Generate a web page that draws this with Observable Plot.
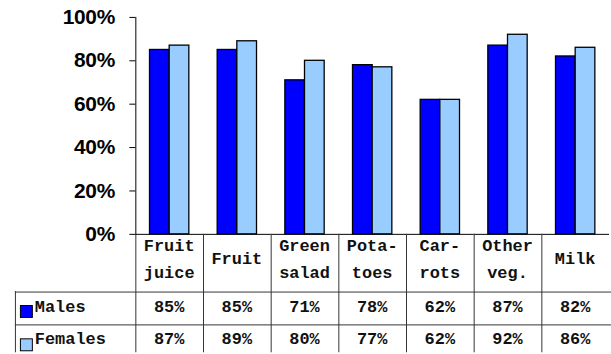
<!DOCTYPE html>
<html><head><meta charset="utf-8">
<script src="https://cdn.jsdelivr.net/npm/d3@7"></script>
<script src="https://cdn.jsdelivr.net/npm/@observablehq/plot@0.6"></script>
<style>
html,body{margin:0;padding:0;background:#fff;overflow:hidden;width:611px;height:354px}
#chart svg{display:block}
</style>
</head><body><div id="chart"></div>
<script>
const categories = ["Fruit juice","Fruit","Green salad","Potatoes","Carrots","Other veg.","Milk"];
const categoryLines = [["Fruit","juice"],["Fruit"],["Green","salad"],["Pota-","toes"],["Car-","rots"],["Other","veg."],["Milk"]];
const series = ["Males","Females"];
const males = [85,85,71,78,62,87,82];
const females = [87,89,80,77,62,92,86];
const colors = ["#0000ff","#99ccff"];
const yTicks = [0,20,40,60,80,100];

const data = categories.flatMap((c,i)=>[
  {cat:c, sex:"Males", v:males[i]},
  {cat:c, sex:"Females", v:females[i]}
]);

const plot = Plot.plot({
  width: 614, height: 354,
  marginLeft: 133, marginRight: 0, marginTop: 17, marginBottom: 119,
  style: {fontFamily: "'Liberation Sans', Arial, sans-serif", fontSize: "21px", fontWeight: "bold", color: "#000", background: "#fff", overflow: "visible"},
  fx: {domain: categories, padding: 0, axis: null},
  x: {domain: series, paddingInner: 0, paddingOuter: 0.72, axis: null, round: false},
  y: {domain: [0,100], ticks: yTicks, tickFormat: d => d + "%", tickSize: 6, tickPadding: 15, label: null, line: true},
  color: {domain: series, range: colors},
  marks: [
    Plot.ruleY([0], {stroke: "#000"}),
    Plot.barY(data, {fx: "cat", x: "sex", y: "v", fill: "sex", stroke: "#000", strokeWidth: 1.3})
  ]
});
document.getElementById("chart").appendChild(plot);

// data table below the chart, positioned with the plot's own scales
const fx = plot.scale("fx");
const ys = plot.scale("y");
const bw = fx.bandwidth;
const y0 = ys.apply(0);
const H = 354, W = 614;
const r1 = y0 + 57.5, r2 = y0 + 91;
const svg = d3.select(plot);
svg.selectAll("text").style("font-size", "21px").style("font-weight", "bold").style("letter-spacing", "-0.3px");
const g = svg.append("g")
  .attr("font-family", "'Liberation Mono','Courier New',monospace")
  .attr("font-size", 17).attr("font-weight", "bold").attr("fill", "#111");
const lines = g.append("g").attr("stroke", "#333").attr("stroke-width", 1);
categories.forEach((c) => {
  const x = Math.round(fx.apply(c)) + 0.5;
  lines.append("line").attr("x1", x).attr("x2", x).attr("y1", y0).attr("y2", H);
});
[r1, r2].forEach(r => {
  lines.append("line").attr("x1", 15).attr("x2", W).attr("y1", Math.round(r)+0.5).attr("y2", Math.round(r)+0.5);
});
lines.append("line").attr("x1", 15.5).attr("x2", 15.5).attr("y1", r1).attr("y2", H);

categories.forEach((c, i) => {
  const cx = fx.apply(c) + bw / 2;
  const ls = categoryLines[i];
  const t = g.append("text").attr("text-anchor", "middle");
  if (ls.length === 2) {
    t.append("tspan").attr("x", cx).attr("y", y0 + 17.5).text(ls[0]);
    t.append("tspan").attr("x", cx).attr("y", y0 + 44).text(ls[1]);
  } else {
    t.append("tspan").attr("x", cx).attr("y", y0 + 30.5).text(ls[0]);
  }
  g.append("text").attr("text-anchor", "middle").attr("x", cx).attr("y", r1 + 21.5).text(males[i] + "%");
  g.append("text").attr("text-anchor", "middle").attr("x", cx).attr("y", r2 + 19.5).text(females[i] + "%");
});

// row legend
[[series[0], colors[0], r1, 21.5], [series[1], colors[1], r2, 19.5]].forEach(([name, col, r, dy]) => {
  g.append("rect").attr("x", 20.5).attr("y", r + 14.5).attr("width", 12).attr("height", 12)
    .attr("fill", col).attr("stroke", "#000").attr("stroke-width", 1);
  g.append("text").attr("text-anchor", "start").attr("x", 35).attr("y", r + dy).text(name);
});
</script>
</body></html>
